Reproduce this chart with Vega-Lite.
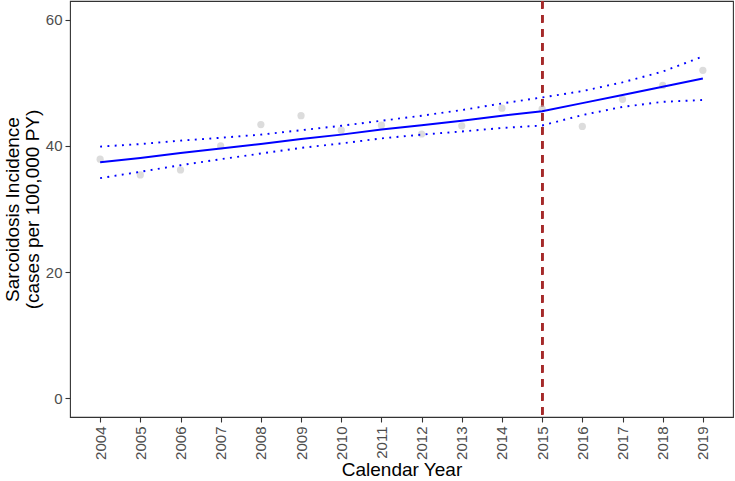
{
  "$schema": "https://vega.github.io/schema/vega-lite/v6.json",
  "width": 663,
  "height": 416,
  "autosize": "none",
  "padding": {"left": 70, "top": 1, "right": 2, "bottom": 64},
  "background": "white",
  "config": {
    "font": "Liberation Sans",
    "view": {"stroke": "#333333", "strokeWidth": 1.1},
    "axis": {
      "grid": false,
      "domain": false,
      "tickColor": "#333333",
      "tickWidth": 1.1,
      "tickSize": 5,
      "labelColor": "#4D4D4D",
      "labelFont": "Liberation Sans",
      "labelFontSize": 15,
      "titleFont": "Liberation Sans",
      "titleFontSize": 19,
      "titleFontWeight": "normal",
      "titleColor": "#000000"
    }
  },
  "data": {
    "values": [
      {"year": 2004, "obs": 37.9, "fit": 37.4, "lo": 34.9, "hi": 39.9},
      {"year": 2005, "obs": 35.4, "fit": 38.1, "lo": 35.9, "hi": 40.3},
      {"year": 2006, "obs": 36.2, "fit": 38.9, "lo": 36.95, "hi": 40.85},
      {"year": 2007, "obs": 40.0, "fit": 39.6, "lo": 37.9, "hi": 41.3},
      {"year": 2008, "obs": 43.4, "fit": 40.3, "lo": 38.8, "hi": 41.8},
      {"year": 2009, "obs": 44.8, "fit": 41.1, "lo": 39.7, "hi": 42.5},
      {"year": 2010, "obs": 42.5, "fit": 41.8, "lo": 40.4, "hi": 43.2},
      {"year": 2011, "obs": 43.3, "fit": 42.6, "lo": 41.2, "hi": 44.0},
      {"year": 2012, "obs": 41.9, "fit": 43.3, "lo": 41.8, "hi": 44.8},
      {"year": 2013, "obs": 43.2, "fit": 44.0, "lo": 42.3, "hi": 45.7},
      {"year": 2014, "obs": 46.0, "fit": 44.8, "lo": 42.85, "hi": 46.75},
      {"year": 2015, "obs": 45.9, "fit": 45.5, "lo": 43.25, "hi": 47.7},
      {"year": 2016, "obs": 43.1, "fit": 46.8, "lo": 44.9, "hi": 48.7},
      {"year": 2017, "obs": 47.4, "fit": 48.1, "lo": 46.2, "hi": 50.1},
      {"year": 2018, "obs": 49.6, "fit": 49.4, "lo": 47.0, "hi": 51.8},
      {"year": 2019, "obs": 52.0, "fit": 50.7, "lo": 47.3, "hi": 54.2}
    ]
  },
  "encoding": {
    "x": {
      "field": "year",
      "type": "quantitative",
      "scale": {"domain": [2003.25, 2019.75], "nice": false, "zero": false},
      "axis": {
        "title": "Calendar Year",
        "values": [2004, 2005, 2006, 2007, 2008, 2009, 2010, 2011, 2012, 2013, 2014, 2015, 2016, 2017, 2018, 2019],
        "format": "d",
        "labelAngle": 270,
        "labelPadding": 4,
        "titlePadding": 1
      }
    }
  },
  "layer": [
    {
      "mark": {"type": "rule", "color": "#A52A2A", "strokeWidth": 2, "strokeDash": [7.5, 6.5]},
      "encoding": {"x": {"datum": 2015, "type": "quantitative"}}
    },
    {
      "mark": {"type": "circle", "color": "#c4c4c4", "opacity": 0.6, "size": 52},
      "encoding": {
        "y": {
          "field": "obs",
          "type": "quantitative",
          "scale": {"domain": [-3, 63], "nice": false, "zero": false},
          "axis": {
            "title": ["Sarcoidosis Incidence", "(cases per 100,000 PY)"],
            "values": [0, 20, 40, 60],
            "labelPadding": 3,
            "titlePadding": 3,
            "titleLineHeight": 20
          }
        }
      }
    },
    {
      "mark": {"type": "line", "color": "#0000FF", "strokeWidth": 1.9, "strokeDash": [1.9, 5.4], "strokeCap": "butt"},
      "encoding": {"y": {"field": "hi", "type": "quantitative"}}
    },
    {
      "mark": {"type": "line", "color": "#0000FF", "strokeWidth": 1.9, "strokeDash": [1.9, 5.4], "strokeCap": "butt"},
      "encoding": {"y": {"field": "lo", "type": "quantitative"}}
    },
    {
      "mark": {"type": "line", "color": "#0000FF", "strokeWidth": 2},
      "encoding": {"y": {"field": "fit", "type": "quantitative"}}
    }
  ]
}
